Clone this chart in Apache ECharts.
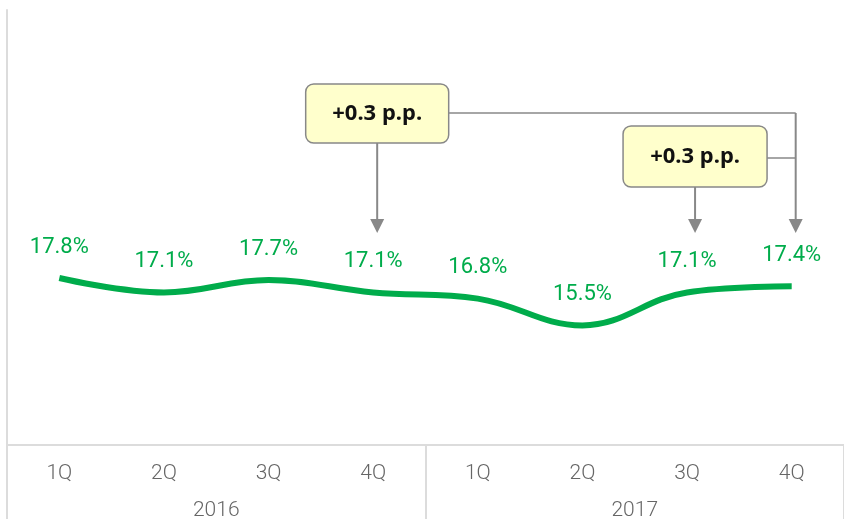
<!DOCTYPE html>
<html lang="en">
<head>
    <meta charset="UTF-8">
    <title>Quarterly rate</title>
    <style>
        html, body { margin: 0; padding: 0; background: #fff; }
        #chart { width: 844px; height: 521px; }
    </style>
</head>
<body>
    <div id="chart"></div>
    <script src="https://cdn.jsdelivr.net/npm/echarts@6/dist/echarts.min.js"></script>
    <script>
        // data
        var quarters = ['1Q', '2Q', '3Q', '4Q', '1Q', '2Q', '3Q', '4Q'];
        var years = ['2016', '2017'];
        var values = [17.8, 17.1, 17.7, 17.1, 16.8, 15.5, 17.1, 17.4];
        var notes = ['+0.3 p.p.', '+0.3 p.p.'];

        var green = '#00ac4b';
        var grey = '#dcdcdc';

        var myChart = echarts.init(document.getElementById('chart'));

        var option = {
            animation: false,
            grid: { left: 7, right: 0, top: 10, bottom: 74 },
            xAxis: [{
                type: 'category',
                data: quarters,
                axisLine: { lineStyle: { color: grey, width: 2 } },
                axisTick: { show: false },
                axisLabel: { color: '#666', fontSize: 21, fontFamily: 'Roboto', fontWeight: 300, margin: 18 }
            }, {
                type: 'category',
                data: years,
                position: 'bottom',
                axisLine: { show: false },
                axisTick: { show: true, length: 74, lineStyle: { color: grey, width: 2 } },
                axisLabel: { color: '#666', fontSize: 21, fontFamily: 'Roboto', fontWeight: 300, margin: 55 }
            }],
            yAxis: {
                type: 'value',
                min: 9.7,
                max: 30.8,
                axisLine: { show: true, lineStyle: { color: grey, width: 2 } },
                axisTick: { show: false },
                axisLabel: { show: false },
                splitLine: { show: false }
            },
            series: [{
                type: 'line',
                data: values,
                smooth: 0.4,
                symbol: 'circle',
                symbolSize: 0.01,
                itemStyle: { color: green },
                lineStyle: { color: green, width: 6 },
                label: {
                    show: true,
                    position: 'top',
                    distance: 20,
                    color: green,
                    fontSize: 22,
                    fontFamily: 'Roboto',
                    formatter: function (p) { return p.value.toFixed(1) + '%'; }
                }
            }]
        };
        myChart.setOption(option);

        // annotation boxes and arrows
        var px = function (i) { return myChart.convertToPixel({ xAxisIndex: 0 }, i); };
        var lineC = '#888';
        var xa = px(3) + 4, xb = px(6) + 8, xc = px(7) + 4;
        var tipY = 233;

        function box(cx, y, w, h, txt) {
            return {
                type: 'group',
                children: [{
                    type: 'rect',
                    shape: { x: cx - w / 2, y: y, width: w, height: h, r: 8 },
                    style: { fill: '#ffffcc', stroke: lineC, lineWidth: 1.5 }
                }, {
                    type: 'text',
                    x: cx, y: y + h / 2,
                    style: { text: txt, fill: '#111', font: 'bold 22px "Noto Sans"', align: 'center', verticalAlign: 'middle' }
                }]
            };
        }
        function arrow(x, y0) {
            return {
                type: 'group',
                children: [{
                    type: 'line',
                    shape: { x1: x, y1: y0, x2: x, y2: tipY - 12 },
                    style: { stroke: lineC, lineWidth: 2 }
                }, {
                    type: 'polygon',
                    shape: { points: [[x - 7, tipY - 14], [x + 7, tipY - 14], [x, tipY]] },
                    style: { fill: lineC }
                }]
            };
        }

        myChart.setOption({
            graphic: [
                { type: 'line', shape: { x1: xa + 70, y1: 113, x2: xc, y2: 113 }, style: { stroke: lineC, lineWidth: 1.5 } },
                { type: 'line', shape: { x1: xb + 72, y1: 158, x2: xc, y2: 158 }, style: { stroke: lineC, lineWidth: 1.5 } },
                arrow(xa, 143),
                arrow(xb, 187),
                arrow(xc, 113),
                box(xa, 84, 143, 59, notes[0]),
                box(xb, 126, 144, 61, notes[1])
            ]
        });
    </script>
</body>
</html>
